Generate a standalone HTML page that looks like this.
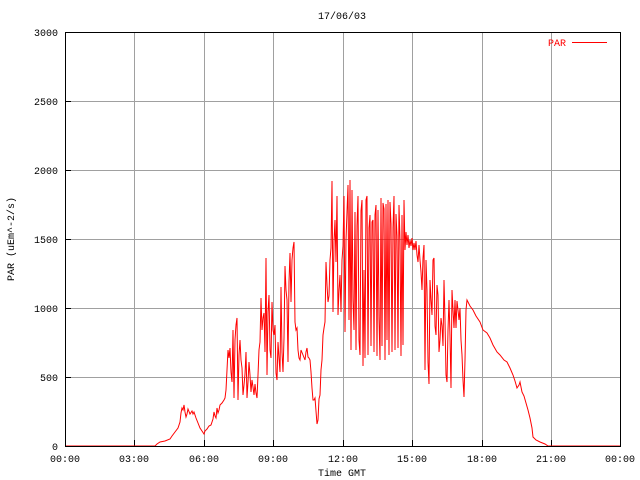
<!DOCTYPE html>
<html><head><meta charset="utf-8"><style>
html,body{margin:0;padding:0;background:#fff}
svg{display:block}
text{font-family:"Liberation Mono",monospace;font-size:10px}
</style></head><body>
<svg width="640" height="480" viewBox="0 0 640 480" xmlns="http://www.w3.org/2000/svg">
<rect width="640" height="480" fill="#fff"/>
<g stroke="#a0a0a0" stroke-width="1">
<line x1="134.5" y1="32" x2="134.5" y2="446"/>
<line x1="204.5" y1="32" x2="204.5" y2="446"/>
<line x1="273.5" y1="32" x2="273.5" y2="446"/>
<line x1="343.5" y1="32" x2="343.5" y2="446"/>
<line x1="412.5" y1="32" x2="412.5" y2="446"/>
<line x1="482.5" y1="32" x2="482.5" y2="446"/>
<line x1="551.5" y1="32" x2="551.5" y2="446"/>
<line x1="65" y1="101.5" x2="620" y2="101.5"/>
<line x1="65" y1="170.5" x2="620" y2="170.5"/>
<line x1="65" y1="239.5" x2="620" y2="239.5"/>
<line x1="65" y1="308.5" x2="620" y2="308.5"/>
<line x1="65" y1="377.5" x2="620" y2="377.5"/>
</g>
<g stroke="#000" stroke-width="1">
<line x1="65" y1="101.5" x2="71" y2="101.5"/>
<line x1="65" y1="170.5" x2="71" y2="170.5"/>
<line x1="65" y1="239.5" x2="71" y2="239.5"/>
<line x1="65" y1="308.5" x2="71" y2="308.5"/>
<line x1="65" y1="377.5" x2="71" y2="377.5"/>
<line x1="134.5" y1="446" x2="134.5" y2="440"/>
<line x1="204.5" y1="446" x2="204.5" y2="440"/>
<line x1="273.5" y1="446" x2="273.5" y2="440"/>
<line x1="343.5" y1="446" x2="343.5" y2="440"/>
<line x1="412.5" y1="446" x2="412.5" y2="440"/>
<line x1="482.5" y1="446" x2="482.5" y2="440"/>
<line x1="551.5" y1="446" x2="551.5" y2="440"/>
</g>
<polyline fill="none" stroke="#ff0000" stroke-width="1" points="65,446 155,446 157,444 160,442 165,441 170,439 172,436 175,432 178,428 180,422 181,413 182,408 183,410 184,405 185,412 186,417 187,414 188,409 190,414 192,411 193,414 194,412 196,418 198,423 200,428 202,431 204,434 205,431 207,429 209,426 211,425 213,419 214,412 215,416 216,418 217,408 218,413 219,410 220,405 222,403 224,400 225,398 226,390 227,370 228,350 229,358 230,348 231,372 232,382 233,330 234,398 235,340 236,325 237,318 238,400 239,355 240,340 241,360 242,368 243,395 244,385 245,374 246,352 247,398 248,382 249,362 250,375 251,392 252,380 253,387 254,395 255,384 256,393 257,398 258,375 259,350 260,342 261,298 262,330 263,318 264,313 265,352 266,258 267,375 268,312 269,295 270,350 271,358 272,302 273,330 274,335 275,325 276,373 277,380 278,342 279,358 280,372 281,287 282,352 283,372 284,338 285,266 286,290 287,300 288,362 289,282 290,253 291,302 292,260 293,248 294,242 295,322 296,330 297,328 298,350 299,358 300,360 301,350 303,355 305,360 306,352 307,348 308,357 309,358 310,360 311,372 312,388 313,400 314,400 315,398 316,411 317,424 318,420 319,399 320,395 321,370 322,360 323,335 324,328 325,322 326,262 327,285 328,302 329,296 330,260 331,248 332,181 333,312 334,242 335,220 336,262 337,196 338,315 339,290 340,275 341,312 342,260 343,246 344,196 345,332 346,240 347,212 348,185 349,320 350,180 351,350 352,190 353,300 354,330 355,212 356,350 357,226 358,196 359,340 360,355 361,211 362,200 363,366 364,270 365,358 366,200 367,196 368,355 369,228 370,215 371,346 372,222 373,220 374,352 375,215 376,205 377,356 378,210 379,318 380,360 381,198 382,346 383,203 384,209 385,360 386,204 387,340 388,200 389,355 390,202 391,224 392,352 393,228 394,196 395,350 396,214 397,236 398,348 399,205 400,240 401,356 402,215 403,345 404,200 405,250 406,232 407,245 408,235 409,248 410,240 411,246 412,238 413,250 414,243 415,250 416,241 417,255 418,262 419,245 420,260 421,272 422,290 423,258 424,245 425,370 426,260 427,290 428,362 429,384 430,280 431,300 432,315 433,260 434,258 435,326 436,335 437,285 438,295 439,352 440,340 441,318 442,326 443,346 444,280 445,320 446,375 447,382 448,330 449,300 450,336 451,388 452,290 453,310 454,328 455,300 456,328 457,301 458,310 459,320 460,308 461,340 462,355 463,380 464,397 465,360 466,310 467,300 470,306 473,310 476,316 480,322 483,330 487,333 490,338 493,345 497,352 500,355 504,360 507,362 510,368 513,375 515,381 517,388 519,385 520,382 522,392 524,396 526,403 528,410 530,418 532,428 533,437 536,440 540,442 545,444 548,446 620,446"/>
<rect x="65.5" y="32.5" width="555" height="414" fill="none" stroke="#000" stroke-width="1"/>
<line x1="572" y1="42.5" x2="607" y2="42.5" stroke="#ff0000" stroke-width="1"/>
<text x="566" y="46" fill="#ff0000" text-anchor="end">PAR</text>
<text x="342" y="19" text-anchor="middle">17/06/03</text>
<g text-anchor="end">
<text x="58" y="36">3000</text>
<text x="58" y="105">2500</text>
<text x="58" y="174">2000</text>
<text x="58" y="243">1500</text>
<text x="58" y="312">1000</text>
<text x="58" y="381">500</text>
<text x="58" y="450">0</text>
</g>
<g text-anchor="middle">
<text x="65" y="462">00:00</text>
<text x="134" y="462">03:00</text>
<text x="204" y="462">06:00</text>
<text x="273" y="462">09:00</text>
<text x="343" y="462">12:00</text>
<text x="412" y="462">15:00</text>
<text x="482" y="462">18:00</text>
<text x="551" y="462">21:00</text>
<text x="620" y="462">00:00</text>
<text x="342" y="476">Time GMT</text>
</g>
<text transform="translate(14,239) rotate(-90)" text-anchor="middle">PAR (uEm^-2/s)</text>
</svg>
</body></html>
